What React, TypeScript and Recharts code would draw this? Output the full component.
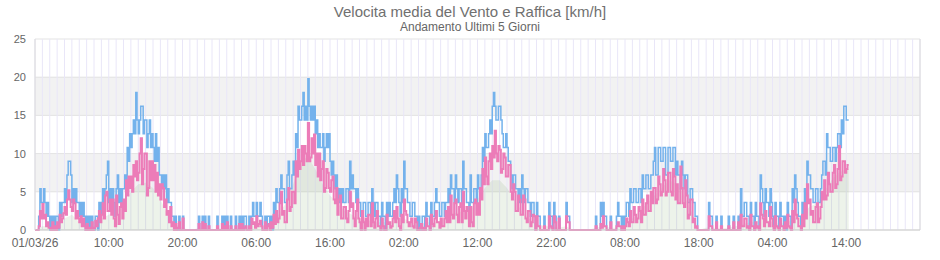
import { ComposedChart, Line, Area, XAxis, YAxis, CartesianGrid, ReferenceLine } from 'recharts'

// 10 minute samples (6 per hour), km/h. Raffica (gust) is quantised at 1.8 km/h steps
const gustDay1 = [
  0, 0, 0, 1.8, 5.4, 3.6, 3.6, 5.4, 3.6, 1.8, 3.6, 1.8,
  0, 1.8, 0, 1.8, 0, 1.8, 1.8, 0, 3.6, 1.8, 3.6, 3.6,
  5.4, 3.6, 7.2, 9.0, 9.0, 7.2, 3.6, 5.4, 3.6, 5.4, 3.6, 3.6,
  1.8, 3.6, 1.8, 3.6, 1.8, 0, 1.8, 0, 1.8, 0, 1.8, 0,
  0, 1.8, 1.8, 0, 3.6, 1.8, 3.6, 5.4, 3.6, 5.4, 7.2, 9.0,
  3.6, 5.4, 3.6, 5.4, 3.6, 1.8, 5.4, 7.2, 3.6, 5.4, 3.6, 5.4,
  5.4, 7.2, 5.4, 10.8, 9.0, 12.6, 10.8, 12.6, 14.4, 12.6, 18.0, 14.4,
  12.6, 14.4, 16.2, 16.2, 12.6, 14.4, 14.4, 10.8, 12.6, 14.4, 10.8, 12.6,
  10.8, 9.0, 12.6, 9.0, 10.8, 7.2, 7.2, 5.4, 7.2, 5.4, 7.2, 3.6,
  5.4, 3.6, 3.6, 1.8, 1.8, 0, 1.8, 0, 0, 1.8, 0, 0,
  1.8, 0, 0, 0, 0, 0, 0, 0, 0, 0, 0, 0,
  0, 1.8, 0, 0, 1.8, 0, 1.8, 0, 0, 1.8, 0, 0,
]
const gustDay2 = [
  0, 0, 0, 0, 1.8, 0, 0, 0, 1.8, 0, 1.8, 0,
  1.8, 0, 0, 1.8, 0, 0, 0, 1.8, 0, 0, 1.8, 0,
  1.8, 0, 1.8, 1.8, 0, 0, 1.8, 0, 1.8, 3.6, 1.8, 1.8,
  3.6, 1.8, 1.8, 3.6, 1.8, 0, 0, 1.8, 0, 1.8, 1.8, 0,
  1.8, 0, 3.6, 1.8, 5.4, 3.6, 3.6, 5.4, 7.2, 5.4, 5.4, 3.6,
  3.6, 7.2, 9.0, 5.4, 5.4, 7.2, 9.0, 7.2, 12.6, 10.8, 16.2, 14.4,
  14.4, 16.2, 18.0, 14.4, 16.2, 14.4, 19.8, 16.2, 14.4, 16.2, 14.4, 16.2,
  12.6, 14.4, 10.8, 12.6, 10.8, 10.8, 12.6, 9.0, 10.8, 12.6, 10.8, 12.6,
  9.0, 7.2, 9.0, 7.2, 5.4, 7.2, 5.4, 3.6, 5.4, 3.6, 5.4, 3.6,
  3.6, 5.4, 5.4, 3.6, 9.0, 5.4, 7.2, 5.4, 5.4, 3.6, 5.4, 3.6,
  3.6, 1.8, 1.8, 3.6, 3.6, 1.8, 1.8, 3.6, 3.6, 1.8, 5.4, 3.6,
  1.8, 3.6, 3.6, 1.8, 1.8, 0, 3.6, 1.8, 1.8, 0, 3.6, 1.8,
]
const gustDay3 = [
  3.6, 1.8, 1.8, 3.6, 5.4, 3.6, 7.2, 5.4, 3.6, 1.8, 5.4, 3.6,
  9.0, 5.4, 5.4, 3.6, 3.6, 1.8, 1.8, 3.6, 3.6, 1.8, 1.8, 0,
  1.8, 0, 0, 1.8, 1.8, 0, 3.6, 1.8, 1.8, 0, 3.6, 1.8,
  1.8, 3.6, 5.4, 3.6, 3.6, 1.8, 1.8, 3.6, 3.6, 1.8, 3.6, 3.6,
  5.4, 3.6, 7.2, 5.4, 5.4, 3.6, 7.2, 5.4, 3.6, 5.4, 5.4, 3.6,
  9.0, 5.4, 5.4, 3.6, 3.6, 1.8, 7.2, 3.6, 3.6, 5.4, 5.4, 3.6,
  7.2, 5.4, 5.4, 7.2, 10.8, 9.0, 12.6, 10.8, 10.8, 12.6, 14.4, 12.6,
  16.2, 18.0, 16.2, 14.4, 14.4, 16.2, 16.2, 14.4, 12.6, 10.8, 10.8, 12.6,
  10.8, 9.0, 9.0, 7.2, 5.4, 7.2, 7.2, 5.4, 5.4, 3.6, 5.4, 3.6,
  7.2, 5.4, 3.6, 5.4, 5.4, 3.6, 3.6, 1.8, 3.6, 3.6, 1.8, 0,
  3.6, 1.8, 1.8, 0, 0, 0, 1.8, 0, 0, 0, 3.6, 1.8,
  1.8, 0, 3.6, 1.8, 0, 0, 1.8, 0, 0, 0, 0, 0,
]
const gustDay4 = [
  3.6, 1.8, 1.8, 0, 0, 0, 0, 0, 0, 0, 0, 0,
  0, 0, 0, 0, 0, 0, 0, 0, 0, 0, 0, 0,
  1.8, 0, 0, 0, 3.6, 1.8, 3.6, 1.8, 1.8, 0, 0, 0,
  1.8, 0, 0, 0, 0, 1.8, 3.6, 1.8, 1.8, 0, 1.8, 0,
  1.8, 3.6, 3.6, 1.8, 5.4, 3.6, 3.6, 5.4, 5.4, 3.6, 3.6, 5.4,
  5.4, 3.6, 7.2, 5.4, 5.4, 7.2, 7.2, 5.4, 5.4, 7.2, 7.2, 9.0,
  10.8, 7.2, 7.2, 10.8, 10.8, 9.0, 9.0, 10.8, 10.8, 7.2, 7.2, 10.8,
  10.8, 9.0, 9.0, 10.8, 10.8, 7.2, 9.0, 7.2, 7.2, 5.4, 9.0, 7.2,
  5.4, 7.2, 7.2, 3.6, 3.6, 5.4, 5.4, 3.6, 3.6, 1.8, 1.8, 0,
  0, 0, 0, 0, 0, 0, 0, 0, 3.6, 1.8, 1.8, 0,
  0, 0, 1.8, 0, 0, 0, 1.8, 0, 0, 0, 0, 0,
  1.8, 0, 0, 0, 1.8, 0, 0, 0, 1.8, 0, 5.4, 1.8,
]
const gustDay5 = [
  1.8, 3.6, 3.6, 1.8, 1.8, 0, 3.6, 1.8, 1.8, 0, 3.6, 1.8,
  1.8, 0, 7.2, 5.4, 3.6, 1.8, 5.4, 3.6, 3.6, 1.8, 5.4, 3.6,
  1.8, 0, 3.6, 1.8, 1.8, 0, 3.6, 1.8, 1.8, 0, 1.8, 0,
  3.6, 1.8, 1.8, 0, 5.4, 3.6, 7.2, 5.4, 3.6, 1.8, 1.8, 0,
  3.6, 1.8, 5.4, 3.6, 9.0, 7.2, 7.2, 5.4, 5.4, 3.6, 3.6, 5.4,
  5.4, 3.6, 3.6, 5.4, 7.2, 9.0, 9.0, 7.2, 12.6, 10.8, 10.8, 9.0,
  9.0, 10.8, 10.8, 9.0, 10.8, 12.6, 12.6, 10.8, 14.4, 12.6, 16.2, 16.2,
  14.4, 14.4, 14.4,
]

// velocita media
const meanDay1 = [
  0, 0, 0, 0.5, 2.5, 1.5, 3.4, 1.5, 2.0, 0.5, 1.0, 0.3,
  0.3, 0, 1.0, 0, 0.5, 0, 1.0, 0.3, 2.0, 1.0, 1.5, 2.2,
  3.0, 2.0, 4.0, 5.2, 4.0, 3.0, 2.5, 4.0, 3.5, 1.5, 2.5, 1.5,
  1.0, 1.8, 0.5, 1.5, 0.5, 0, 0.8, 0, 0.3, 0, 1.0, 0,
  0.3, 1.2, 0.5, 1.5, 2.5, 1.0, 2.0, 3.5, 1.5, 4.5, 5.0, 2.5,
  2.5, 4.0, 2.0, 4.0, 1.5, 0.5, 4.5, 2.0, 0.8, 3.0, 3.5, 1.5,
  4.0, 2.5, 6.5, 4.5, 7.0, 5.5, 7.0, 5.0, 8.5, 7.0, 9.0, 6.5,
  7.5, 10.0, 12.0, 6.0, 8.0, 10.0, 10.0, 4.5, 5.5, 9.0, 6.5, 9.0,
  6.5, 8.5, 5.0, 7.5, 4.5, 6.0, 4.0, 6.0, 5.5, 3.0, 4.0, 2.0,
  2.5, 1.0, 3.0, 0.5, 1.0, 0, 0.8, 0, 0.3, 1.0, 0, 0,
  1.5, 0, 0, 0, 0, 0, 0, 0, 0, 0, 0, 0,
  0, 0.8, 0, 0, 1.0, 0, 0.8, 0, 0, 0.5, 0, 0,
]
const meanDay2 = [
  0, 0, 0, 0, 0.5, 0, 0, 0, 0.8, 0, 0.5, 0,
  1.0, 0, 0, 0.5, 0, 0, 0, 0.5, 0, 0, 0.8, 0,
  0.8, 0, 0.3, 0.5, 0, 0, 0.5, 0, 1.5, 0.8, 1.0, 0.3,
  1.8, 0.5, 0.8, 1.2, 0.5, 0, 0, 1.0, 0, 0.5, 0.8, 0,
  1.0, 0.3, 2.0, 0.8, 2.5, 1.0, 1.5, 3.5, 5.0, 2.0, 2.5, 1.0,
  1.0, 4.0, 5.5, 2.5, 3.0, 5.0, 5.0, 3.5, 9.0, 7.0, 10.5, 8.0,
  9.0, 11.0, 8.5, 11.0, 10.0, 9.0, 14.0, 9.0, 9.5, 12.0, 10.0, 12.5,
  8.5, 10.0, 7.0, 10.0, 6.5, 8.0, 9.0, 5.0, 5.5, 8.0, 7.5, 5.5,
  5.0, 6.5, 7.0, 4.0, 3.5, 5.5, 2.0, 4.0, 4.5, 1.5, 1.5, 3.0,
  3.0, 1.5, 1.0, 2.5, 5.0, 3.0, 3.5, 1.5, 0.5, 2.5, 4.0, 1.5,
  1.0, 0, 2.5, 1.0, 0, 1.5, 0.5, 2.0, 2.0, 0.5, 3.5, 1.0,
  0.3, 1.5, 2.5, 0.5, 0.5, 0, 1.5, 0.5, 0, 0, 2.0, 0.8,
]
const meanDay3 = [
  1.0, 0.3, 0.5, 1.5, 2.5, 1.0, 3.0, 1.5, 0.5, 0, 2.0, 1.0,
  4.0, 2.5, 2.0, 1.0, 0.5, 1.0, 1.5, 0.5, 0.3, 1.5, 1.0, 0,
  0, 0.3, 0.8, 0, 0.3, 0, 1.5, 0.5, 0.5, 0, 2.0, 0.8,
  0.5, 1.5, 2.5, 1.0, 1.0, 0.3, 1.5, 0.5, 0.5, 1.5, 2.5, 1.0,
  3.0, 1.0, 4.5, 2.0, 1.5, 3.5, 4.0, 2.0, 1.0, 3.0, 3.5, 1.0,
  5.0, 2.5, 1.5, 3.0, 2.5, 0.5, 3.0, 1.0, 0.5, 3.5, 4.0, 2.0,
  3.5, 2.0, 5.5, 4.0, 8.0, 6.0, 9.5, 7.0, 6.0, 9.0, 10.0, 8.0,
  11.0, 9.5, 13.0, 10.0, 9.0, 11.0, 10.5, 7.5, 8.0, 10.0, 9.5, 7.0,
  7.0, 8.5, 8.5, 5.0, 4.0, 6.0, 5.0, 2.5, 2.5, 4.5, 4.0, 2.0,
  2.0, 4.5, 4.0, 1.5, 1.0, 2.5, 2.5, 0.5, 1.0, 2.0, 1.8, 0,
  1.8, 0.5, 0.5, 0, 0, 0, 0.5, 0, 0, 0, 1.8, 0.5,
  0.3, 0, 1.8, 1.0, 0, 0, 1.5, 0, 0, 0, 0, 0,
]
const meanDay4 = [
  1.8, 1.0, 1.0, 0, 0, 0, 0, 0, 0, 0, 0, 0,
  0, 0, 0, 0, 0, 0, 0, 0, 0, 0, 0, 0,
  0.5, 0, 0, 0, 0.8, 0.3, 1.8, 0.5, 0.5, 0, 0, 0,
  1.0, 0, 0, 0, 0, 0.5, 1.0, 0.5, 0.5, 0, 0.5, 0,
  0.5, 1.5, 1.0, 0.5, 2.5, 1.0, 1.0, 3.0, 2.0, 1.0, 1.5, 3.0,
  2.5, 1.0, 4.0, 2.0, 2.0, 3.5, 4.5, 2.5, 2.5, 5.0, 3.5, 5.5,
  5.5, 3.5, 4.0, 7.0, 6.0, 4.5, 5.0, 8.0, 6.5, 4.5, 5.0, 7.5,
  7.5, 5.0, 4.5, 8.0, 7.0, 4.0, 6.0, 3.5, 3.5, 8.3, 5.5, 3.5,
  3.0, 6.5, 4.5, 1.5, 2.0, 4.0, 4.0, 1.0, 1.5, 0.3, 0.5, 0,
  0, 0, 0, 0, 0, 0, 0, 0, 1.8, 0.5, 0.5, 0,
  0, 0, 1.0, 0, 0, 0, 0.5, 0, 0, 0, 0, 0,
  0.5, 0, 0, 0, 1.0, 0, 0, 0, 1.0, 0, 2.0, 0.5,
]
const meanDay5 = [
  0.5, 1.5, 1.5, 0.3, 0.5, 0, 2.0, 0.5, 0.5, 0, 1.0, 0.3,
  0.5, 0, 3.5, 2.0, 1.5, 0.5, 2.5, 1.0, 1.0, 0.5, 3.0, 1.5,
  0.5, 0, 1.8, 0.5, 0.3, 0, 1.5, 0.5, 0.5, 0, 1.0, 0.3,
  2.0, 0.5, 0.3, 0, 2.5, 1.0, 4.0, 2.0, 1.5, 0.5, 0.5, 0,
  2.0, 0.5, 3.5, 1.5, 6.0, 3.5, 4.0, 2.0, 2.5, 1.0, 1.0, 3.0,
  3.5, 1.0, 1.5, 3.0, 5.0, 4.0, 6.5, 4.0, 4.5, 7.5, 6.0, 5.0,
  5.0, 7.5, 8.5, 5.5, 6.0, 8.0, 11.0, 6.5, 7.0, 9.0, 9.0, 7.5,
  8.0, 8.5, 8.5,
]

// andamento orario (area verde), one value per hour
const trendDay1 = [0, 0.5, 0.5, 0.5, 1.5, 2, 1, 0.5, 0.5, 1.5, 2, 2.5, 3.5, 5, 6, 6.2, 5.5, 4, 2, 0.8, 0.3, 0, 0.2, 0.2]
const trendDay2 = [0.1, 0.2, 0.2, 0.2, 0.3, 0.5, 0.8, 0.5, 0.8, 2, 3.5, 6, 9, 9.6, 8, 6, 4.5, 3.5, 2.5, 2, 1.5, 1.3, 1, 1]
const trendDay3 = [1, 1.5, 1.5, 1, 0.5, 1, 1, 1.2, 2, 2.2, 2.5, 2.5, 4, 5.5, 6.5, 6.5, 5.5, 4, 2.5, 1.5, 0.8, 0.5, 0.5, 0.3]
const trendDay4 = [0.5, 0, 0, 0, 0.3, 0.5, 0.3, 0.3, 0.8, 1.5, 2.5, 3.5, 4.5, 5.5, 6.5, 6, 4.5, 2.5, 0, 0.3, 0.3, 0.2, 0.3, 0.5]
const trendDay5 = [0.8, 1, 1.2, 1.5, 1, 0.8, 1, 1.5, 2, 3, 3.5, 5, 6.5, 7.5, 8]

const labelHours = [0, 10, 20, 30, 40, 50, 60, 70, 80, 90, 100, 110]
const tickLabels = ['01/03/26', '10:00', '20:00', '06:00', '16:00', '02:00', '12:00', '22:00', '08:00', '18:00', '04:00', '14:00']
const yTicks = [0, 5, 10, 15, 20, 25]

const STEP = 1 / 6 // hours between samples

function toPoints(values: number[], step: number) {
  return values.map((v, i) => ({ h: i * step, v }))
}

const gust = toPoints([...gustDay1, ...gustDay2, ...gustDay3, ...gustDay4, ...gustDay5], STEP)
const mean = toPoints([...meanDay1, ...meanDay2, ...meanDay3, ...meanDay4, ...meanDay5], STEP)
const trendValues = [...trendDay1, ...trendDay2, ...trendDay3, ...trendDay4, ...trendDay5]
const trend = [
  ...toPoints(trendValues, 1),
  { h: gust[gust.length - 1].h, v: trendValues[trendValues.length - 1] },
]

// hourly vertical grid lines over the 5 days
const hourTicks = Array.from({ length: 121 }, (_, i) => i)

function formatTick(h: number) {
  const idx = labelHours.indexOf(h)
  return idx >= 0 ? tickLabels[idx] : ''
}

export default function App() {
  return (
    <div
      style={{
        position: 'absolute',
        left: 0,
        top: 0,
        width: 940,
        height: 260,
        background: '#fff',
        fontFamily: '"Liberation Sans", Arial, sans-serif',
      }}
    >
      <div style={{ position: 'absolute', top: 4, left: 0, width: 940, textAlign: 'center', fontSize: 15, lineHeight: '15px', color: '#707070' }}>
        Velocita media del Vento e Raffica [km/h]
      </div>
      <div style={{ position: 'absolute', top: 21, left: 0, width: 940, textAlign: 'center', fontSize: 12, lineHeight: '12px', color: '#666' }}>
        Andamento Ultimi 5 Giorni
      </div>
      <ComposedChart width={940} height={260} margin={{ top: 39, right: 20, bottom: 0, left: 0 }}>
        <CartesianGrid vertical={false} stroke="#e3e3e3" horizontalFill={['#ffffff', '#f2f2f2']} />
        <CartesianGrid horizontal={false} stroke="#e9e6f8" />
        <XAxis
          type="number"
          dataKey="h"
          domain={[0, 120]}
          ticks={hourTicks}
          interval={0}
          tickFormatter={formatTick}
          tickLine={false}
          tickSize={0}
          tickMargin={8}
          height={30}
          axisLine={{ stroke: '#cfcfcf' }}
          tick={{ fontSize: 12, fill: '#666' }}
          allowDataOverflow
        />
        <YAxis
          type="number"
          domain={[0, 25]}
          ticks={yTicks}
          width={35}
          tickLine={false}
          tickSize={0}
          tickMargin={9}
          axisLine={{ stroke: '#dadada' }}
          tick={{ fontSize: 11, fill: '#666' }}
        />
        <ReferenceLine x={120} stroke="#dadada" />
        <Area
          data={trend}
          dataKey="v"
          type="linear"
          stroke="none"
          fill="#6a9a50"
          fillOpacity={0.12}
          isAnimationActive={false}
        />
        <Line
          data={gust}
          dataKey="v"
          type="stepAfter"
          stroke="#74b2ec"
          strokeWidth={1.5}
          dot={false}
          isAnimationActive={false}
        />
        <Line
          data={mean}
          dataKey="v"
          type="stepAfter"
          stroke="#ec7cb8"
          strokeWidth={2}
          dot={false}
          isAnimationActive={false}
        />
      </ComposedChart>
    </div>
  )
}
